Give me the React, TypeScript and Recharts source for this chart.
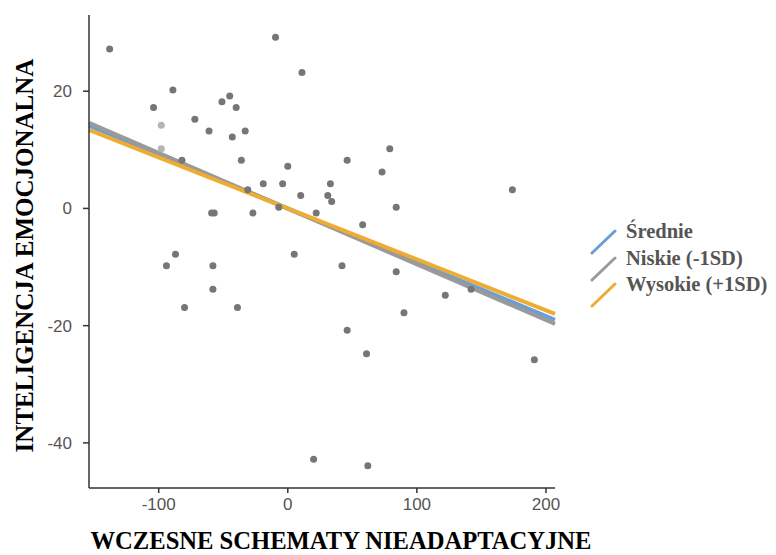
import React from "react"
import {
  ComposedChart,
  ReferenceLine,
  Scatter,
  XAxis,
  YAxis,
  Label,
} from "recharts"

// observed points (x = early maladaptive schemas, y = emotional intelligence)
const pointsX = [
  -138, -9.5, 11, -89, -104, -45, -51, -40, -72, -61, -33, -43, -82, -36, 0,
  -19, -4, -31, 10, 31, 34, -7, -59, -57, -27, 22, 79, 46, 73, 33, 174, 84, 58,
  -87, -94, -58, -58, -80, -39, 5, 20, 42, 84, 122, 142, 90, 46, 61, 191, 62,
]
const pointsY = [
  27.2, 29.2, 23.2, 20.2, 17.2, 19.2, 18.2, 17.2, 15.2, 13.2, 13.2, 12.2, 8.2,
  8.2, 7.2, 4.2, 4.2, 3.2, 2.2, 2.2, 1.2, 0.2, -0.8, -0.8, -0.8, -0.8, 10.2,
  8.2, 6.2, 4.2, 3.2, 0.2, -2.8, -7.8, -9.8, -9.8, -13.8, -16.9, -16.9, -7.8,
  -42.8, -9.8, -10.8, -14.8, -13.8, -17.8, -20.8, -24.8, -25.8, -43.9,
]
const lightX = [-98, -98]
const lightY = [14.2, 10.2]

// fitted lines, values at the left and right edge of the x range
const lineNames = ["Średnie", "Niskie (-1SD)", "Wysokie (+1SD)"]
const lineColors = ["#6a9fd6", "#9a9a9a", "#eeac33"]
const lineStart = [14.1, 14.6, 13.4]
const lineEnd = [-19.0, -19.7, -18.0]
const X_MIN = -154
const X_MAX = 207

const xTicks = [-100, 0, 100, 200]
const yTicks = [-40, -20, 0, 20]

const points = pointsX.map((x, i) => ({ x, y: pointsY[i] }))
const lightPoints = lightX.map((x, i) => ({ x, y: lightY[i] }))

const dot = (fill: string) => (props: any) =>
  <circle cx={props.cx} cy={props.cy} r={3.5} fill={fill} />

const tickStyle = {
  fontFamily: "Liberation Sans, Arial, sans-serif",
  fontSize: 17,
  fill: "#555",
}

const titleStyle = {
  fontFamily: "Liberation Serif, serif",
  fontWeight: "bold",
  fill: "#000",
}

const LegendBox = () => (
  <div
    style={{
      position: "absolute",
      left: 589,
      top: 219,
      fontFamily: "Liberation Serif, serif",
      fontWeight: "bold",
    }}
  >
    {lineNames.map((name, i) => (
      <div key={name} style={{ position: "relative", height: 26.5, width: 190 }}>
        <svg width={30} height={27} style={{ position: "absolute", left: 0, top: 10 }}>
          <line
            x1={3}
            y1={24}
            x2={26}
            y2={2}
            stroke={lineColors[i]}
            strokeWidth={3}
            strokeLinecap="round"
          />
        </svg>
        <span
          style={{
            position: "absolute",
            left: 37,
            top: 0,
            fontSize: 20.5,
            lineHeight: "24px",
            color: "#555",
            whiteSpace: "nowrap",
          }}
        >
          {name}
        </span>
      </div>
    ))}
  </div>
)

export default function App() {
  return (
    <div style={{ position: "absolute", left: 0, top: 0, width: 776, height: 555, background: "#fff" }}>
      <ComposedChart
        width={776}
        height={555}
        margin={{ top: 15, right: 221, bottom: 37, left: 29 }}
      >
        <XAxis
          type="number"
          dataKey="x"
          domain={[X_MIN, X_MAX]}
          ticks={xTicks}
          allowDataOverflow
          height={30}
          tick={tickStyle}
          tickSize={5}
          tickMargin={5}
          stroke="#333"
          strokeWidth={1.5}
        >
          <Label
            value="WCZESNE SCHEMATY NIEADAPTACYJNE"
            position="insideBottom"
            offset={-31}
            dx={19}
            style={{ ...titleStyle, fontSize: 24.6 }}
          />
        </XAxis>
        <YAxis
          type="number"
          dataKey="y"
          domain={[-47.7, 33]}
          ticks={yTicks}
          allowDataOverflow
          width={60}
          tick={tickStyle}
          tickSize={6}
          tickMargin={11}
          stroke="#333"
          strokeWidth={1.5}
        >
          <Label
            value="INTELIGENCJA EMOCJONALNA"
            angle={-90}
            position="insideLeft"
            offset={-5}
            dy={4}
            style={{ ...titleStyle, textAnchor: "middle", fontSize: 25 }}
          />
        </YAxis>
        <Scatter
          data={points}
          shape={dot("#767676")}
          isAnimationActive={false}
        />
        <Scatter
          data={lightPoints}
          shape={dot("#b4b4b4")}
          isAnimationActive={false}
        />
        {lineNames.map((name, i) => (
          <ReferenceLine
            key={name}
            segment={[
              { x: X_MIN, y: lineStart[i] },
              { x: X_MAX, y: lineEnd[i] },
            ]}
            stroke={lineColors[i]}
            strokeWidth={4}
            ifOverflow="visible"
          />
        ))}
      </ComposedChart>
      <LegendBox />
    </div>
  )
}
